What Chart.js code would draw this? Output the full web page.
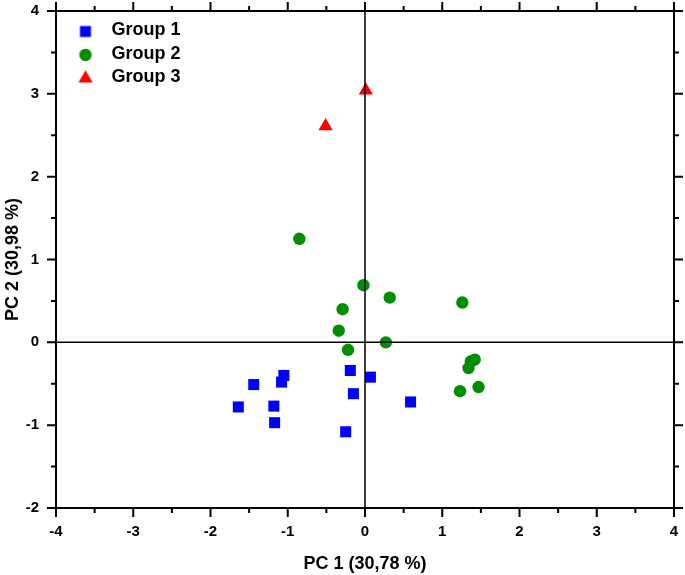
<!DOCTYPE html>
<html>
<head>
<meta charset="utf-8">
<script src="https://cdn.jsdelivr.net/npm/chart.js@4/dist/chart.umd.min.js"></script>
<style>
  html, body { margin: 0; padding: 0; background: #fff; }
</style>
</head>
<body>
<canvas id="pcaChart" width="685" height="575"></canvas>
<script>
// Scores
const group1X = [-1.64, -1.44, -1.05, -1.08, -1.18, -1.17, -0.19, 0.07, -0.15, -0.25, 0.59];
const group1Y = [-0.78, -0.51, -0.40, -0.48, -0.77, -0.97, -0.34, -0.42, -0.62, -1.08, -0.72];
const group2X = [-0.85, -0.02, 0.32, -0.29, -0.34, -0.22, 0.27, 1.26, 1.42, 1.37, 1.34, 1.47, 1.23];
const group2Y = [1.25, 0.69, 0.54, 0.40, 0.14, -0.09, 0.00, 0.48, -0.21, -0.23, -0.31, -0.54, -0.59];
const group3X = [-0.51, 0.01];
const group3Y = [2.61, 3.04];

const groupNames = ['Group 1', 'Group 2', 'Group 3'];
const xTicks = [-4, 4];
const yTicks = [-2, 4];

const toPoints = (xs, ys) => xs.map((v, i) => ({ x: v, y: ys[i] }));

Chart.defaults.font.family = 'Arial, "Liberation Sans", sans-serif';
Chart.defaults.font.weight = 'bold';
Chart.defaults.color = '#000';

const styles = [
  { pointStyle: 'rect', color: '#0000ff', radius: 7.8 },
  { pointStyle: 'circle', color: '#008f00', radius: 6.2 },
  { pointStyle: 'triangle', color: '#ff0000', radius: 8.2 }
];

// small images for legend markers so the gap to the text matches
function legendMark(s) {
  const c = document.createElement('canvas');
  c.width = 20; c.height = 20;
  const g = c.getContext('2d');
  g.fillStyle = s.color;
  Chart.helpers.drawPoint(g, { pointStyle: s.pointStyle, radius: s.radius, rotation: 0, borderWidth: 0 }, 10, 11);
  return c;
}
const legendMarks = styles.map(legendMark);

const frame = {
  id: 'frame',
  afterLayout(chart) {
    const a = chart.chartArea;
    chart.legend.left = a.left + 7;
    chart.legend.top = a.top + 5;
  },
  afterDatasetsDraw(chart) {
    const { ctx, chartArea: a, scales: { x, y } } = chart;
    ctx.save();
    ctx.strokeStyle = '#000';
    ctx.lineWidth = 1.5;
    const x0 = x.getPixelForValue(0), y0 = y.getPixelForValue(0);
    ctx.beginPath();
    ctx.moveTo(x0, a.top); ctx.lineTo(x0, a.bottom);
    ctx.moveTo(a.left, y0); ctx.lineTo(a.right, y0);
    ctx.stroke();

    ctx.lineWidth = 2;
    ctx.strokeRect(a.left, a.top, a.right - a.left, a.bottom - a.top);

    ctx.beginPath();
    for (let v = xTicks[0]; v <= xTicks[1]; v += 0.5) {
      const p = x.getPixelForValue(v);
      const len = Number.isInteger(v) ? 9 : 5;
      ctx.moveTo(p, a.bottom); ctx.lineTo(p, a.bottom + len);
      ctx.moveTo(p, a.top); ctx.lineTo(p, a.top - len);
    }
    for (let v = yTicks[0]; v <= yTicks[1]; v += 0.5) {
      const p = y.getPixelForValue(v);
      const len = Number.isInteger(v) ? 9 : 5;
      ctx.moveTo(a.left, p); ctx.lineTo(a.left - len, p);
      ctx.moveTo(a.right, p); ctx.lineTo(a.right + len, p);
    }
    ctx.stroke();
    ctx.restore();
  }
};

const series = [toPoints(group1X, group1Y), toPoints(group2X, group2Y), toPoints(group3X, group3Y)];

const ctx = document.getElementById('pcaChart').getContext('2d');
const pcaChart = new Chart(ctx, {
  type: 'scatter',
  data: {
    datasets: series.map((pts, i) => ({
      label: groupNames[i],
      data: pts,
      pointStyle: styles[i].pointStyle,
      pointRadius: styles[i].radius,
      pointHoverRadius: styles[i].radius,
      backgroundColor: styles[i].color,
      borderColor: styles[i].color,
      borderWidth: 0
    }))
  },
  options: {
    responsive: false,
    animation: false,
    layout: { autoPadding: false, padding: { top: 11, right: 11, left: 0, bottom: 0 } },
    scales: {
      x: {
        type: 'linear',
        min: xTicks[0], max: xTicks[1],
        afterFit: (s) => { s.height = 67; s.paddingLeft = 0; s.paddingRight = 0; },
        grid: { display: false, drawTicks: false },
        border: { display: false },
        ticks: { stepSize: 1, padding: 15, font: { size: 15, weight: 'bold' } },
        title: { display: true, text: 'PC 1 (30,78 %)', font: { size: 18, weight: 'bold' }, padding: { top: 0, bottom: 0.5 } }
      },
      y: {
        type: 'linear',
        min: yTicks[0], max: yTicks[1],
        afterFit: (s) => { s.width = 56; s.paddingTop = 0; s.paddingBottom = 0; },
        grid: { display: false, drawTicks: false },
        border: { display: false },
        ticks: { stepSize: 1, padding: 17, font: { size: 15, weight: 'bold' } },
        title: { display: true, text: 'PC 2 (30,98 %)', font: { size: 18, weight: 'bold' }, padding: { top: 2.7, bottom: 0 } }
      }
    },
    plugins: {
      tooltip: { enabled: false },
      legend: {
        position: 'chartArea',
        align: 'start',
        labels: {
          usePointStyle: true,
          pointStyleWidth: 34,
          padding: 5.5,
          font: { size: 18, weight: 'bold' },
          generateLabels: (chart) => Chart.defaults.plugins.legend.labels.generateLabels(chart)
            .map((item, i) => ({ ...item, pointStyle: legendMarks[i] }))
        }
      }
    }
  },
  plugins: [frame]
});
</script>
</body>
</html>
